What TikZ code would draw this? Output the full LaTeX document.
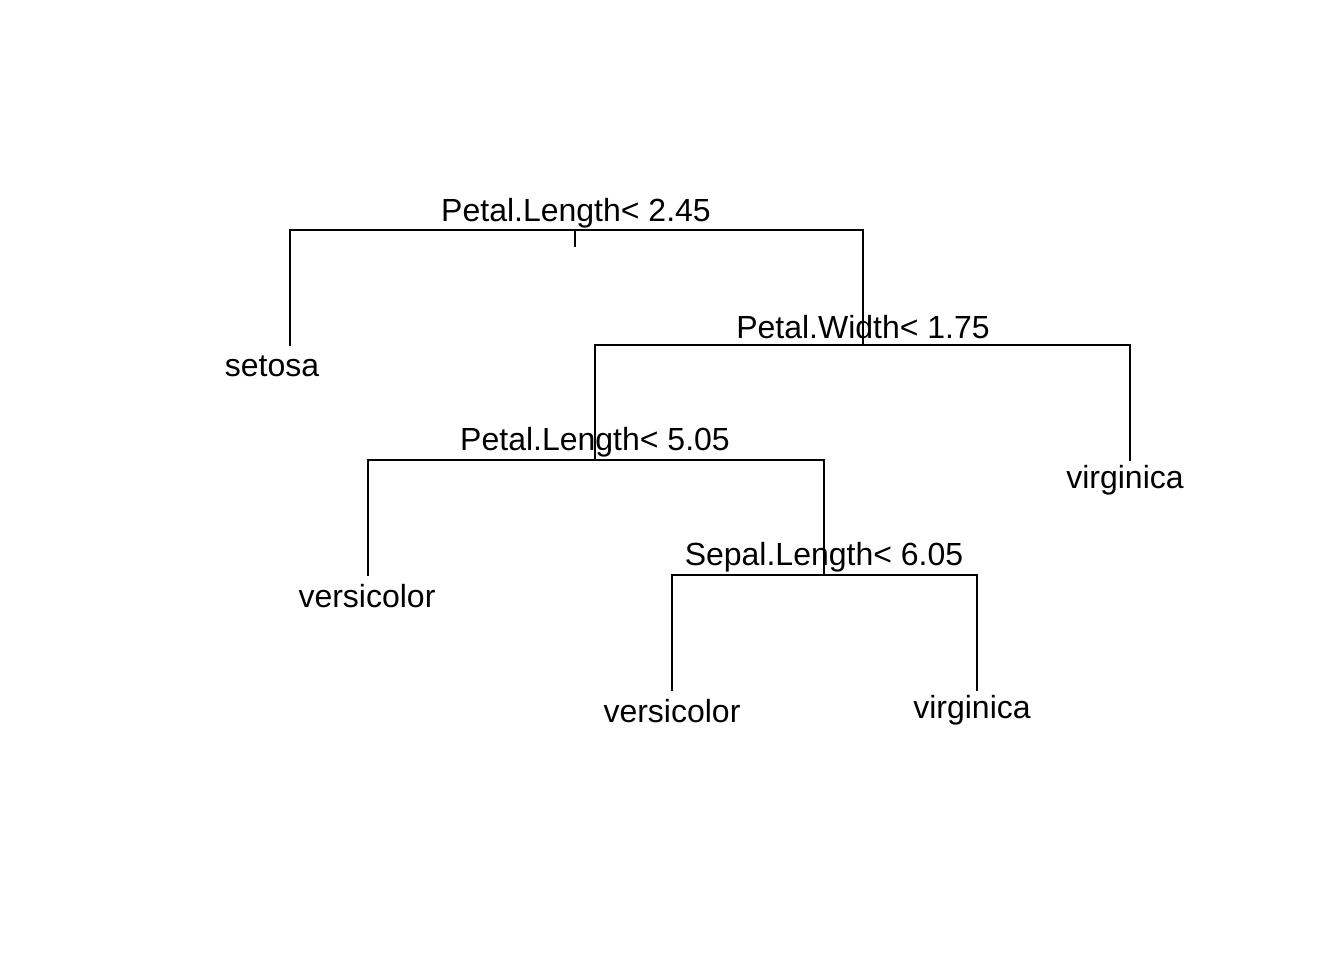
\documentclass[tikz,border=0pt]{standalone}
\usepackage{fontspec}
\setmainfont{Liberation Sans}
\begin{document}
\begin{tikzpicture}[x=0.75pt,y=-0.75pt,
  edge/.style={line width=1.5pt,line cap=rect},
  lbl/.style={anchor=base,inner sep=0pt,font=\fontsize{24}{28}\selectfont}]
\useasboundingbox (0,0) rectangle (1344,960);
% split points and leaves
\coordinate (r) at (575,230);
\coordinate (n2) at (863,345);
\coordinate (n3) at (595,460);
\coordinate (n4) at (824,575);
\coordinate (l1) at (290,345);
\coordinate (l2) at (1130,460);
\coordinate (l3) at (368,575);
\coordinate (l4) at (672,690);
\coordinate (l5) at (977,690);
\coordinate (rs) at (575,246);
% branches
\draw[edge] (l1) |- (r) -| (n2);
\draw[edge] (r) -- (rs);
\draw[edge] (n3) |- (n2) -| (l2);
\draw[edge] (l3) |- (n3) -| (n4);
\draw[edge] (l4) |- (n4) -| (l5);
% split labels
\node[lbl] (t1) at (576,221) {Petal.Length< 2.45};
\node[lbl] (t2) at (863,338) {Petal.Width< 1.75};
\node[lbl] (t3) at (595,450) {Petal.Length< 5.05};
\node[lbl] (t4) at (824,565) {Sepal.Length< 6.05};
% leaf labels
\node[lbl] (s1) at (272,376) {setosa};
\node[lbl] (s2) at (1125,488) {virginica};
\node[lbl] (s3) at (367,607) {versicolor};
\node[lbl] (s4) at (672,722) {versicolor};
\node[lbl] (s5) at (972,718) {virginica};
\end{tikzpicture}
\end{document}
